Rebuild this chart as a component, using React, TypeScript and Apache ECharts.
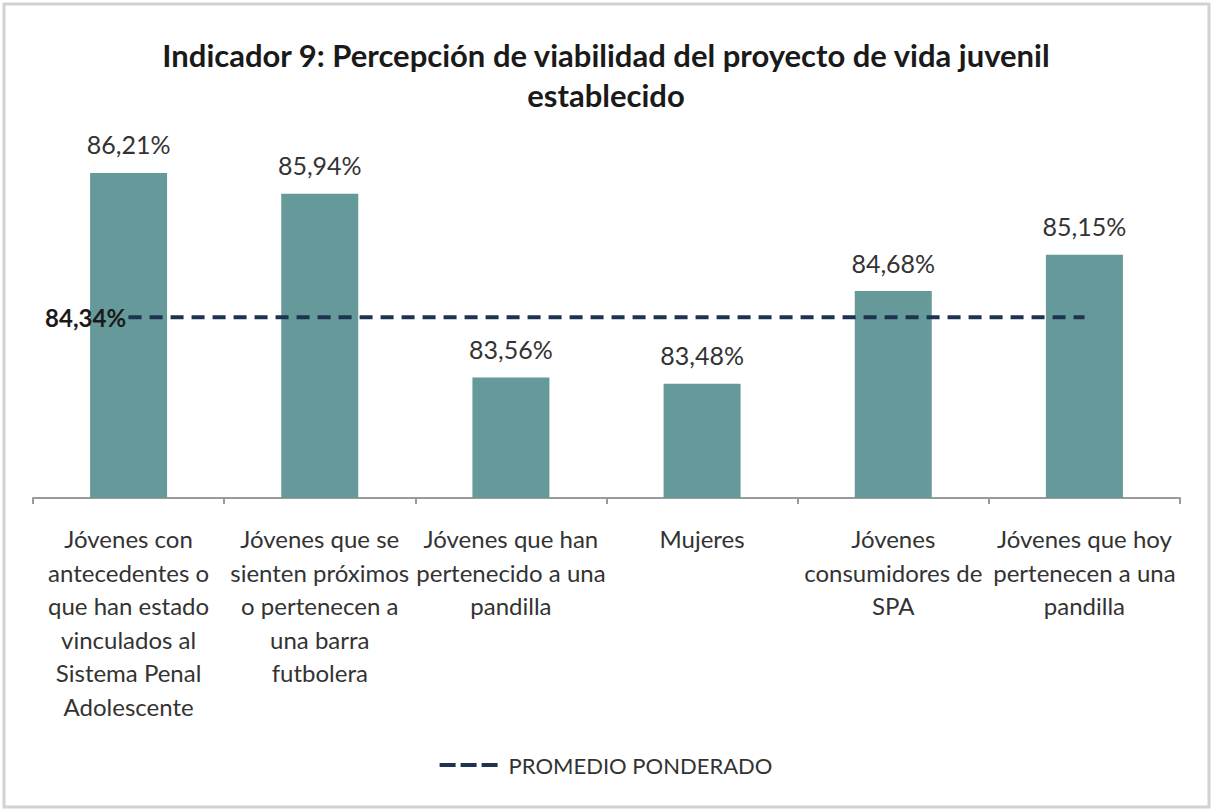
import React, { useEffect, useRef } from "react";
import * as echarts from "echarts";

const titleText = "Indicador 9: Percepción de viabilidad del proyecto de vida juvenil\nestablecido";
const categories = [
  "Jóvenes con\nantecedentes o\nque han estado\nvinculados al\nSistema Penal\nAdolescente",
  "Jóvenes que se\nsienten próximos\no pertenecen a\nuna barra\nfutbolera",
  "Jóvenes que han\npertenecido a una\npandilla",
  "Mujeres",
  "Jóvenes\nconsumidores de\nSPA",
  "Jóvenes que hoy\npertenecen a una\npandilla",
];
const values = [86.21, 85.94, 83.56, 83.48, 84.68, 85.15];
const promedio = [84.34, 84.34, 84.34, 84.34, 84.34, 84.34];
const promedioName = "PROMEDIO PONDERADO";

const fmt = (v: number) => v.toFixed(2).replace(".", ",") + "%";

export default function App() {
  const ref = useRef<HTMLDivElement>(null);
  useEffect(() => {
    if (!ref.current) return;
    const chart = echarts.init(ref.current, null, { renderer: "svg" });
    const font = "Lato";
    const navy = "#1c3450";
    chart.setOption({
      animation: false,
      backgroundColor: "#ffffff",
      title: {
        text: titleText,
        left: "center",
        top: 30,
        textStyle: {
          fontFamily: font,
          fontWeight: "bold",
          fontSize: 31,
          lineHeight: 40,
          color: "#1a1a1a",
        },
      },
      legend: {
        bottom: 30,
        left: "center",
        data: [
          {
            name: promedioName,
            icon: "path://M0 0h16v4H0z M21 0h16v4H21z M42 0h16v4H42z",
            itemStyle: { color: navy, opacity: 1, borderWidth: 0 },
          },
        ],
        itemWidth: 58,
        itemHeight: 4,
        itemStyle: { color: navy, opacity: 1, borderWidth: 0 },
        lineStyle: { width: 0 },
        textStyle: { fontFamily: font, fontSize: 22, color: "#333333", padding: [0, 0, 0, 6] },
      },
      graphic: [
        {
          type: "rect",
          shape: { x: 4, y: 4, width: 1205, height: 803 },
          style: { fill: "none", stroke: "#d2d2d2", lineWidth: 3 },
          silent: true,
        },
      ],
      grid: { left: 33, right: 32, top: 112, bottom: 313, containLabel: false },
      xAxis: {
        type: "category",
        data: categories,
        axisLine: { lineStyle: { color: "#9a9a9a", width: 2 } },
        axisTick: { show: true, length: 6, lineStyle: { color: "#9a9a9a", width: 2 } },
        axisLabel: {
          interval: 0,
          margin: 24,
          fontFamily: font,
          fontSize: 24,
          lineHeight: 33.5,
          color: "#333333",
        },
      },
      yAxis: {
        type: "value",
        min: 82,
        max: 87,
        show: false,
        splitLine: { show: false },
      },
      series: [
        {
          type: "bar",
          data: values,
          barWidth: 77,
          itemStyle: { color: "#669999" },
          label: {
            show: true,
            position: "top",
            distance: 16,
            fontFamily: font,
            fontSize: 25,
            color: "#333333",
            formatter: (p: any) => fmt(p.value),
          },
          z: 2,
        },
        {
          type: "line",
          name: promedioName,
          data: promedio.map((v, i) =>
            i === 0
              ? {
                  value: v,
                  label: {
                    show: true,
                    position: "left",
                    distance: 2,
                    fontFamily: font,
                    fontWeight: "bold",
                    fontSize: 24,
                    color: "#1a1a1a",
                    formatter: (p: any) => fmt(p.value),
                  },
                }
              : v
          ),
          symbol: "circle",
          symbolSize: 1,
          showSymbol: true,
          lineStyle: { color: navy, width: 4, type: [13, 8] },
          itemStyle: { color: navy },
          z: 5,
        },
      ],
    });
    return () => chart.dispose();
  }, []);
  return (
    <div
      ref={ref}
      style={{ position: "fixed", left: 0, top: 0, width: 1212, height: 811 }}
    />
  );
}
